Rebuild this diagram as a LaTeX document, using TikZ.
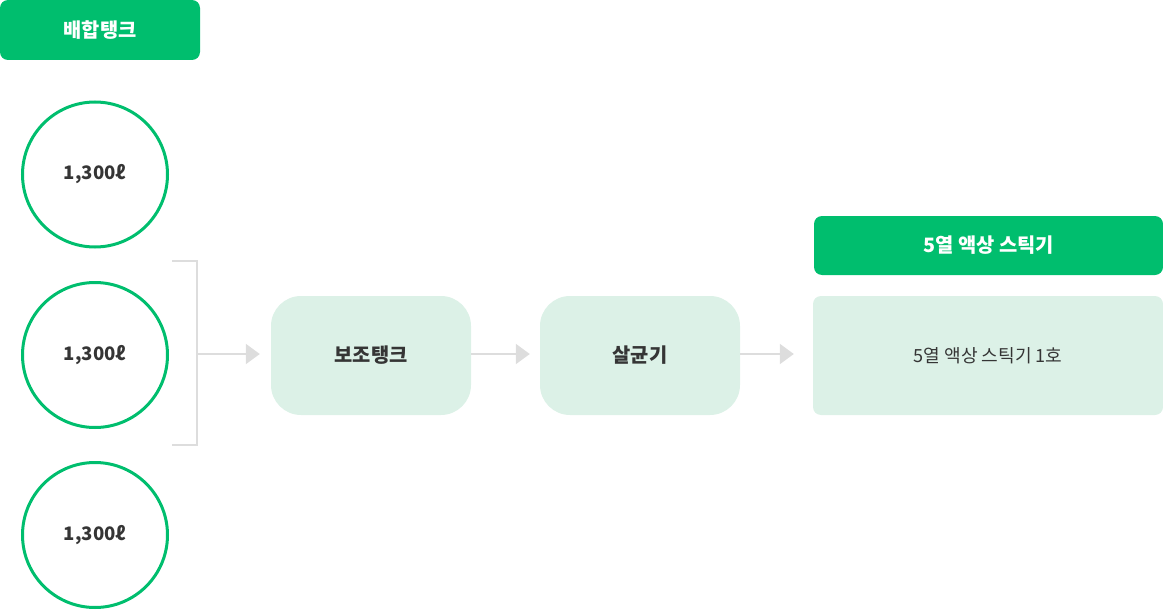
\documentclass[tikz,border=0pt]{standalone}
\usepackage{fontspec}
\newfontfamily\kr{Noto Sans CJK KR}
\usetikzlibrary{arrows.meta}
\definecolor{brand}{HTML}{00BE6E}
\definecolor{pale}{HTML}{DCF1E7}
\definecolor{linegray}{HTML}{DDDDDD}
\definecolor{ink}{HTML}{353535}
\tikzset{
  headbox/.style={fill=brand, rounded corners=8pt, text=white, font=\kr\fontsize{19.8pt}{24pt}\selectfont\bfseries},
  tank/.style={circle, draw=brand, line width=3pt, minimum size=145pt, inner sep=0pt, text=ink, font=\kr\fontsize{18.6pt}{22pt}\selectfont\bfseries},
  procbox/.style={fill=pale, rounded corners=30pt, minimum width=200pt, minimum height=119pt, text=ink, font=\kr\fontsize{19.8pt}{24pt}\selectfont\bfseries},
  flow/.style={draw=linegray, line width=2pt, -{Triangle[length=14pt,width=20pt]}},
  brace/.style={draw=linegray, line width=2pt}
}
\begin{document}
\begin{tikzpicture}[x=1pt,y=-1pt]
\useasboundingbox (0,0) rectangle (1163,610);
% header of tanks
\node[headbox, minimum width=200pt, minimum height=60pt] (mixhead) at (100,30) {배합탱크};
% tanks
\node[tank] (t1) at (95,174.5) {1,300ℓ};
\node[tank] (t2) at (95,355) {1,300ℓ};
\node[tank] (t3) at (95,535) {1,300ℓ};
% bracket
\coordinate (bt) at (172,261);
\coordinate (bb) at (172,445);
\coordinate (bm) at (197,354);
\draw[brace] (bt) -- (197,261) -- (197,445) -- (bb);
% process boxes
\node[procbox] (sub) at (371,355.5) {보조탱크};
\node[procbox] (ster) at (640,355.5) {살균기};
% stick machine
\node[headbox, minimum width=349pt, minimum height=59pt] (stickhead) at (988.5,245.5) {5열 액상 스틱기};
\node[fill=pale, rounded corners=8pt, minimum width=350pt, minimum height=119pt, text=ink, font=\kr\fontsize{18.1pt}{22pt}\selectfont] (stick) at (988,355.5) {5열 액상 스틱기 1호};
% flows
\draw[flow] (bm) -- ([xshift=-11pt]sub.west |- bm);
\draw[flow] (sub.east |- bm) -- ([xshift=-10pt]ster.west |- bm);
\draw[flow] (ster.east |- bm) -- ([xshift=-19pt]stick.west |- bm);
\end{tikzpicture}
\end{document}
